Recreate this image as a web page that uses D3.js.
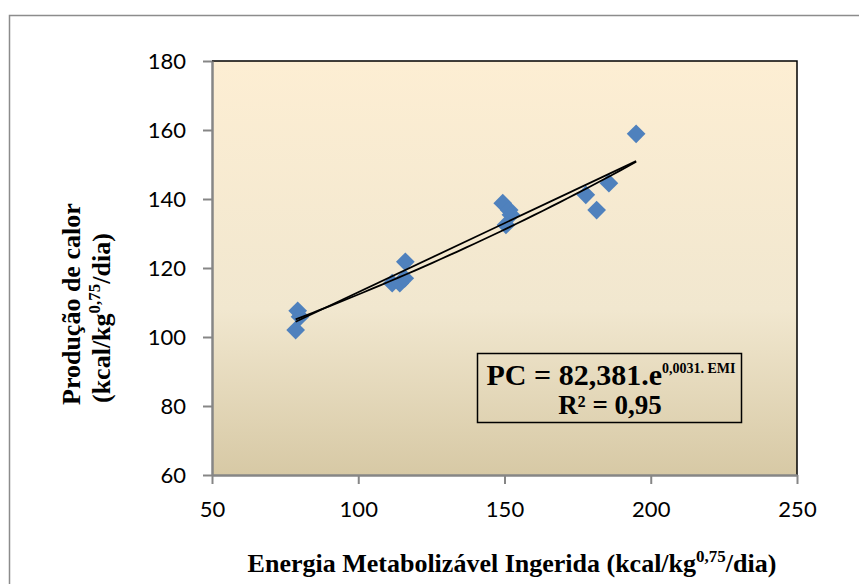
<!DOCTYPE html>
<html>
<head>
<meta charset="utf-8">
<script src="https://d3js.org/d3.v7.min.js"></script>
<style>
  body { margin: 0; background: #fff; }
  svg text { fill: #000; }
</style>
</head>
<body>
<div id="chart"></div>
<script>
// data
const emi = [79.3, 80.1, 78.6, 116.1, 111.6, 114.2, 115.9, 149.4, 151.6, 152.2, 150.5, 177.8, 185.7, 181.5, 195.0];
const pc  = [107.6, 105.9, 102.0, 121.8, 115.6, 115.6, 117.0, 138.8, 136.8, 135.4, 132.5, 141.2, 144.6, 136.8, 158.9];
const xTicks = [50, 100, 150, 200, 250];
const yTicks = [60, 80, 100, 120, 140, 160, 180];
const expA = 82.381, expB = 0.0031;

const width = 859, height = 584;
const margin = { top: 61, right: 62, bottom: 109, left: 212 };
const serif = "'Liberation Serif', 'Times New Roman', serif";

const svg = d3.select("#chart").append("svg")
    .attr("width", width)
    .attr("height", height);

// outer chart border
svg.append("rect")
    .attr("x", 9.5).attr("y", 15.5)
    .attr("width", 860).attr("height", 600)
    .attr("fill", "none")
    .attr("stroke", "#8c8c8c")
    .attr("stroke-width", 1.5);

const x = d3.scaleLinear().domain([50, 250]).range([margin.left, width - margin.right]);
const y = d3.scaleLinear().domain([60, 180]).range([height - margin.bottom, margin.top]);

const defs = svg.append("defs");
const grad = defs.append("linearGradient")
    .attr("id", "bg").attr("x1", 0).attr("y1", 0).attr("x2", 0).attr("y2", 1);
grad.append("stop").attr("offset", 0).attr("stop-color", "#fdeed3");
grad.append("stop").attr("offset", 0.6).attr("stop-color", "#f1e7cf");
grad.append("stop").attr("offset", 1).attr("stop-color", "#d7c9a5");

svg.append("rect")
    .attr("x", x(50)).attr("y", y(180))
    .attr("width", x(250) - x(50)).attr("height", y(60) - y(180))
    .attr("fill", "url(#bg)");

// top and right border (black)
svg.append("path")
    .attr("d", `M${x(50)},${y(180)}H${x(250)}V${y(60)}`)
    .attr("fill", "none").attr("stroke", "#000").attr("stroke-width", 1.5);

const axisColor = "#868686";

const xAxis = svg.append("g")
    .attr("transform", `translate(0,${y(60)})`)
    .call(d3.axisBottom(x).tickValues(xTicks).tickSize(9).tickSizeOuter(0));
const yAxis = svg.append("g")
    .attr("transform", `translate(${x(50)},0)`)
    .call(d3.axisLeft(y).tickValues(yTicks).tickSize(9).tickPadding(17).tickSizeOuter(0));

[xAxis, yAxis].forEach(g => {
  g.select(".domain").attr("stroke", axisColor).attr("stroke-width", 2.5);
  g.selectAll(".tick line").attr("stroke", axisColor).attr("stroke-width", 2);
  g.selectAll(".tick text")
      .attr("font-family", "Lato, 'Open Sans', sans-serif")
      .attr("font-size", 22)
      .attr("fill", "#000");
});
xAxis.selectAll(".tick text").attr("y", 42).attr("dy", 0);

// diamond markers
const points = emi.map((v, i) => ({ x: v, y: pc[i] }));
svg.append("g").selectAll("path")
    .data(points)
    .join("path")
    .attr("d", d3.symbol(d3.symbolSquare, 175))
    .attr("transform", d => `translate(${x(d.x)},${y(d.y)}) rotate(45)`)
    .attr("fill", "#4f81bd");

// trend lines: exponential from the printed equation, linear least squares
const xMin = d3.min(emi), xMax = d3.max(emi);
const xs = d3.range(0, 41).map(i => xMin + (xMax - xMin) * i / 40);
const line = d3.line().x(d => x(d[0])).y(d => y(d[1]));

const mx = d3.mean(emi), my = d3.mean(pc);
const slope = d3.sum(emi, (v, i) => (v - mx) * (pc[i] - my)) / d3.sum(emi, v => (v - mx) ** 2);
const icpt = my - slope * mx;

svg.append("path")
    .datum([[xMin, icpt + slope * xMin], [xMax, icpt + slope * xMax]])
    .attr("d", line)
    .attr("fill", "none").attr("stroke", "#000").attr("stroke-width", 1.8);

svg.append("path")
    .datum(xs.map(v => [v, expA * Math.exp(expB * v)]))
    .attr("d", line)
    .attr("fill", "none").attr("stroke", "#000").attr("stroke-width", 1.8);

// equation box
const box = svg.append("g");
box.append("rect")
    .attr("x", 477.5).attr("y", 353.5)
    .attr("width", 264).attr("height", 69)
    .attr("fill", "none").attr("stroke", "#000").attr("stroke-width", 1.5);
const eq = box.append("text")
    .attr("x", 611).attr("y", 385)
    .attr("text-anchor", "middle")
    .attr("font-family", serif)
    .attr("font-weight", "bold")
    .attr("font-size", 30);
eq.append("tspan").text("PC = 82,381.e");
eq.append("tspan").attr("font-size", 14).attr("dy", -12).text("0,0031. EMI");
box.append("text")
    .attr("x", 610).attr("y", 414)
    .attr("text-anchor", "middle")
    .attr("font-family", serif)
    .attr("font-weight", "bold")
    .attr("font-size", 27)
    .text("R² = 0,95");

// axis titles
const xt = svg.append("text")
    .attr("x", 512).attr("y", 572)
    .attr("text-anchor", "middle")
    .attr("font-family", serif)
    .attr("font-weight", "bold")
    .attr("font-size", 26);
xt.append("tspan").text("Energia Metabolizável Ingerida (kcal/kg");
xt.append("tspan").attr("font-size", 17).attr("dy", -10).text("0,75");
xt.append("tspan").attr("dy", 10).text("/dia)");

const yt = svg.append("g")
    .attr("transform", "rotate(-90)");
yt.append("text")
    .attr("x", -405).attr("y", 80)
    .attr("font-family", serif)
    .attr("font-weight", "bold")
    .attr("font-size", 26)
    .text("Produção de calor");
const yt2 = yt.append("text")
    .attr("x", -403).attr("y", 110)
    .attr("font-family", serif)
    .attr("font-weight", "bold")
    .attr("font-size", 26);
yt2.append("tspan").text("(kcal/kg");
yt2.append("tspan").attr("font-size", 17).attr("dy", -10).text("0,75");
yt2.append("tspan").attr("dy", 10).text("/dia)");
</script>
</body>
</html>
